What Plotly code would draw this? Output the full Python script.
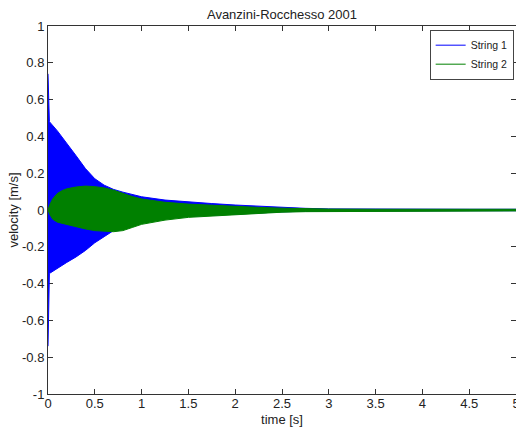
import plotly.graph_objects as go

# ---- data (envelopes of the dense oscillations) ----
# String 1: time [s], upper and lower envelope of velocity [m/s]
t_string1 = [0, 0.015, 0.1, 0.2, 0.3, 0.4, 0.5, 0.6, 0.7, 0.8, 0.9, 1.0, 1.25, 1.5,
             1.75, 2.0, 2.25, 2.5, 2.75, 3.0, 3.5, 4.0, 4.5, 5.0]
upper_string1 = [0.74, 0.48, 0.43, 0.365, 0.295, 0.225, 0.17, 0.135, 0.112, 0.097, 0.083,
                 0.072, 0.054, 0.043, 0.035, 0.027, 0.02, 0.014, 0.009, 0.006, 0.004,
                 0.004, 0.004, 0.004]
lower_string1 = [-0.74, -0.345, -0.315, -0.285, -0.255, -0.22, -0.178, -0.145, -0.112,
                 -0.09, -0.072, -0.06, -0.045, -0.035, -0.028, -0.022, -0.016, -0.01,
                 -0.007, -0.005, -0.004, -0.004, -0.004, -0.004]

# String 2
t_string2 = [0, 0.02, 0.05, 0.1, 0.15, 0.2, 0.3, 0.4, 0.5, 0.6, 0.7, 0.8, 0.9, 1.0,
             1.25, 1.5, 1.75, 2.0, 2.25, 2.5, 2.75, 3.0, 3.5, 4.0, 4.5, 5.0]
upper_string2 = [0, 0.03, 0.06, 0.09, 0.105, 0.115, 0.125, 0.13, 0.127, 0.12, 0.108,
                 0.09, 0.073, 0.06, 0.042, 0.032, 0.025, 0.018, 0.014, 0.01, 0.007,
                 0.005, 0.004, 0.004, 0.004, 0.004]
lower_string2 = [0, -0.025, -0.05, -0.066, -0.075, -0.082, -0.091, -0.103, -0.112,
                 -0.117, -0.118, -0.112, -0.095, -0.078, -0.055, -0.04, -0.033, -0.027,
                 -0.018, -0.012, -0.009, -0.007, -0.006, -0.005, -0.005, -0.005]

series_names = ["String 1", "String 2"]
series_colors = ["#0000FF", "#008000"]

x_tick_values = [0, 0.5, 1, 1.5, 2, 2.5, 3, 3.5, 4, 4.5, 5]
x_tick_labels = ["0", "0.5", "1", "1.5", "2", "2.5", "3", "3.5", "4", "4.5", "5"]
y_tick_values = [1, 0.8, 0.6, 0.4, 0.2, 0, -0.2, -0.4, -0.6, -0.8, -1]
y_tick_labels = ["1", "0.8", "0.6", "0.4", "0.2", "0", "-0.2", "-0.4", "-0.6", "-0.8", "-1"]

title_text = "Avanzini-Rocchesso 2001"
x_title = "time [s]"
y_title = "velocity [m/s]"

FONT = "Liberation Sans, Arial, Helvetica, sans-serif"
TEXT_COLOR = "#222222"

fig = go.Figure()

envelopes = [
    (t_string1, upper_string1, lower_string1),
    (t_string2, upper_string2, lower_string2),
]
for (t, up, lo), name, color in zip(envelopes, series_names, series_colors):
    fig.add_trace(go.Scatter(
        x=list(t) + list(t)[::-1],
        y=list(up) + list(lo)[::-1],
        mode="lines",
        fill="toself",
        fillcolor=color,
        line=dict(color=color, width=1),
        name=name,
        showlegend=False,
        hoverinfo="skip",
    ))

# legend entries (line symbols, as in the original)
for name, color in zip(series_names, series_colors):
    fig.add_trace(go.Scatter(
        x=[None], y=[None], mode="lines",
        line=dict(color=color, width=1),
        name=name, showlegend=True,
    ))

axis_common = dict(
    showline=True, linecolor="#333333", linewidth=1, mirror="ticks",
    ticks="inside", ticklen=5, tickcolor="#333333", tickwidth=1,
    showgrid=False, zeroline=False, layer="below traces",
    ticklabeloverflow="allow", automargin=False,
    tickfont=dict(family=FONT, size=13, color=TEXT_COLOR),
)

fig.update_layout(
    width=516, height=427,
    margin=dict(l=48, r=0, t=26, b=33, autoexpand=False),
    paper_bgcolor="white", plot_bgcolor="white",
    font=dict(family=FONT, size=13, color=TEXT_COLOR),
    title=dict(text=title_text, x=0.5, xref="paper", xanchor="center",
               y=1 - 14 / 427, yref="container", yanchor="middle",
               font=dict(family=FONT, size=13, color=TEXT_COLOR)),
    xaxis=dict(range=[0, 5], tickvals=x_tick_values, ticktext=x_tick_labels,
               ticklabelstandoff=-3,
               title=dict(text=x_title, standoff=5,
                          font=dict(family=FONT, size=13, color=TEXT_COLOR)),
               **axis_common),
    yaxis=dict(range=[-1, 1], tickvals=y_tick_values, ticktext=y_tick_labels,
               title=dict(text=y_title, standoff=0,
                          font=dict(family=FONT, size=13, color=TEXT_COLOR)),
               **axis_common),
    legend=dict(x=0.995, xanchor="right", y=0.99, yanchor="top",
                bgcolor="white", bordercolor="#444444", borderwidth=1,
                font=dict(family=FONT, size=10.5, color=TEXT_COLOR),
                itemwidth=30, tracegroupgap=0),
    showlegend=True,
)

fig.write_html("out.html")
